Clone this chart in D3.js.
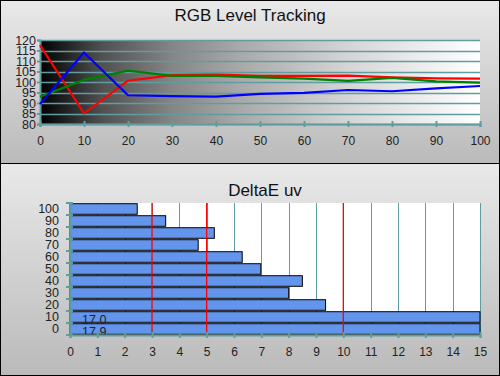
<!DOCTYPE html>
<html><head><meta charset="utf-8">
<script src="https://cdn.jsdelivr.net/npm/d3@7"></script>
<style>html,body{margin:0;padding:0;background:#fff}svg{display:block}text{font-family:Arial,"Liberation Sans",sans-serif}</style>
</head><body>
<script>
const levels = [0,10,20,30,40,50,60,70,80,90,100];
const redVals = [117.6,85.1,100.6,103.3,103.5,102.9,102.9,103.0,102.2,101.7,101.6];
const greenVals = [93.0,101.0,105.4,102.9,102.9,102.2,101.6,100.5,102.0,100.3,99.7];
const blueVals = [89.5,114.0,93.7,93.3,93.0,94.3,94.8,96.2,95.6,97.0,98.1];
const yTicksTop = [80,85,90,95,100,105,110,115,120];
const deCats = [100,90,80,70,60,50,40,30,20,10,0];
const deVals = [2.46,3.5,5.28,4.69,6.3,6.98,8.5,8.0,9.35,17.0,17.9];
const deTicks = d3.range(0,16);
const redRefs = [3,5,10];

const W=500,H=376;
const svg=d3.select("body").append("svg").attr("width",W).attr("height",H);
const defs=svg.append("defs");
const pg=defs.append("linearGradient").attr("id","panel").attr("x1",0).attr("y1",0).attr("x2",0).attr("y2",1);
pg.append("stop").attr("offset",0).attr("stop-color","#e9e9e9");
pg.append("stop").attr("offset",1).attr("stop-color","#bababa");
const hg=defs.append("linearGradient").attr("id","ramp").attr("x1",0).attr("y1",0).attr("x2",1).attr("y2",0);
[[0,"#000"],[0.03,"#111"],[0.14,"#505050"],[0.3,"#858585"],[0.45,"#a8a8a8"],[0.7,"#d5d5d5"],[1,"#fff"]].forEach(([o,c])=>hg.append("stop").attr("offset",o).attr("stop-color",c));

svg.append("rect").attr("x",0).attr("y",0).attr("width",W).attr("height",163).attr("fill","url(#panel)");
svg.append("rect").attr("x",0).attr("y",163).attr("width",W).attr("height",H-163).attr("fill","url(#panel)");
svg.append("rect").attr("x",0.5).attr("y",0.5).attr("width",W-1).attr("height",H-1).attr("fill","none").attr("stroke","#000");
svg.append("line").attr("x1",0).attr("x2",W).attr("y1",163.5).attr("y2",163.5).attr("stroke","#000");

const teal="#5f9ea0";
// Top chart
const x1=d3.scaleLinear().domain([0,100]).range([40,480]);
const y1=d3.scaleLinear().domain([80,120]).range([124,40]);
svg.append("text").attr("x",250).attr("y",21).attr("text-anchor","middle").attr("font-size",17).attr("fill","#111").text("RGB Level Tracking");
svg.append("rect").attr("x",40).attr("y",40).attr("width",440).attr("height",84).attr("fill","url(#ramp)");
const gTop=svg.append("g");
gTop.selectAll("line.g").data(yTicksTop).join("line").attr("x1",40).attr("x2",480).attr("y1",d=>Math.round(y1(d))+0.5).attr("y2",d=>Math.round(y1(d))+0.5).attr("stroke",teal).attr("stroke-width",1.3);
const yAx=svg.append("g").attr("transform","translate(40,0)").call(d3.axisLeft(y1).tickValues(yTicksTop).tickSize(3).tickPadding(1));
yAx.selectAll("text").attr("font-size",12.5).attr("fill","#222");
yAx.selectAll("line,path").attr("stroke",teal).attr("stroke-width",2);
const xAx=svg.append("g").attr("transform","translate(0,124)").call(d3.axisBottom(x1).tickValues(levels).tickSize(3).tickPadding(9));
xAx.selectAll("text").attr("font-size",12).attr("fill","#222");
xAx.selectAll("line").attr("stroke",teal).attr("stroke-width",2).attr("y1",-3);
xAx.select("path").attr("stroke",teal).attr("stroke-width",2);
const line=d3.line().x((d,i)=>x1(levels[i])).y(d=>y1(d));
[[redVals,"#ff0000"],[greenVals,"#008000"],[blueVals,"#0000ff"]].forEach(([v,c])=>{
  svg.append("path").datum(v).attr("d",line).attr("fill","none").attr("stroke",c).attr("stroke-width",2.2);
});

// Bottom chart
svg.append("text").attr("x",265).attr("y",196).attr("text-anchor","middle").attr("font-size",17).attr("fill","#111").text("DeltaE uv");
const x2=d3.scaleLinear().domain([0,15]).range([70,480]);
const y2=d3.scaleBand().domain(deCats).range([203,335]).paddingInner(0.12).paddingOuter(0.06);
svg.append("rect").attr("x",70).attr("y",203).attr("width",410).attr("height",132).attr("fill","#fff");
svg.selectAll("line.vg").data(deTicks).join("line").attr("x1",d=>Math.round(x2(d))+0.5).attr("x2",d=>Math.round(x2(d))+0.5).attr("y1",203).attr("y2",335).attr("stroke",teal).attr("stroke-width",1);
svg.selectAll("rect.bar").data(deVals).join("rect").attr("x",x2(0)).attr("y",(d,i)=>y2(deCats[i])).attr("width",d=>x2(Math.min(d,15))-x2(0)).attr("height",y2.bandwidth()).attr("fill","#6495ed").attr("stroke","#000").attr("stroke-width",1);
svg.selectAll("line.rr").data(redRefs).join("line").attr("x1",d=>x2(d)).attr("x2",d=>x2(d)).attr("y1",203).attr("y2",335).attr("stroke","#ff0000").attr("stroke-width",1.3);
deVals.forEach((v,i)=>{ if(v>15){ svg.append("text").attr("x",82).attr("y",y2(deCats[i])+y2.bandwidth()/2+7).attr("font-size",12.5).attr("fill","#222").text(v.toFixed(1)); }});
const yAx2=svg.append("g").attr("transform","translate(70,0)").call(d3.axisLeft(y2).tickSize(0).tickPadding(11));
yAx2.selectAll("text").attr("font-size",12.5).attr("fill","#222");
yAx2.select("path").attr("stroke",teal).attr("stroke-width",2);
const bounds=d3.range(0,12).map(i=>203+i*12);
svg.selectAll("line.bt").data(bounds).join("line").attr("x1",66).attr("x2",73).attr("y1",d=>d).attr("y2",d=>d).attr("stroke",teal).attr("stroke-width",2);
const xAx2=svg.append("g").attr("transform","translate(0,335)").call(d3.axisBottom(x2).tickValues(deTicks).tickSize(3).tickPadding(9).tickFormat(d3.format("d")));
xAx2.selectAll("text").attr("font-size",12).attr("fill","#222");
xAx2.selectAll("line").attr("stroke",teal).attr("stroke-width",2).attr("y1",-3);
xAx2.select("path").attr("stroke",teal).attr("stroke-width",2);
</script>
</body></html>
